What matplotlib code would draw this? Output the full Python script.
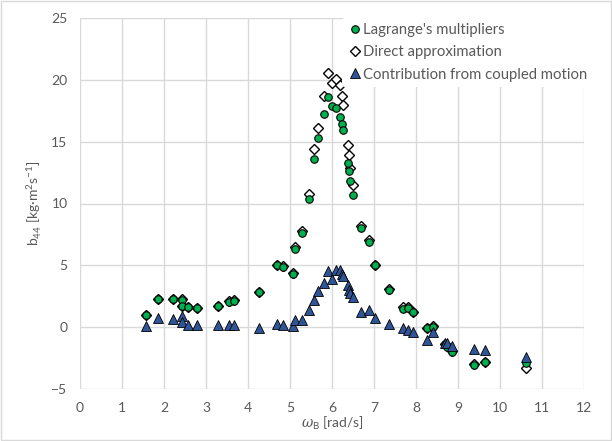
import matplotlib
matplotlib.use("Agg")
import matplotlib.pyplot as plt

plt.rcParams["font.family"] = ["Lato", "DejaVu Sans"]
plt.rcParams["mathtext.fontset"] = "custom"
plt.rcParams["mathtext.rm"] = "Lato"
plt.rcParams["mathtext.it"] = "DejaVu Serif:italic"

# encounter frequency [rad/s]
omega = [1.56, 1.86, 2.21, 2.44, 2.44, 2.58, 2.78, 3.29, 3.55, 3.67, 4.25,
         4.69, 4.83, 5.07, 5.13, 5.29, 5.45, 5.58, 5.67, 5.81, 5.91, 6.00,
         6.10, 6.18, 6.24, 6.27, 6.39, 6.40, 6.43, 6.49, 6.68, 6.88, 7.02,
         7.36, 7.70, 7.80, 7.92, 8.26, 8.40, 8.69, 8.73, 8.85, 9.39, 9.64, 10.63]
# roll damping b44, Lagrange's multipliers
b44_lagrange = [1.0, 2.3, 2.25, 2.2, 1.68, 1.6, 1.55, 1.68, 2.05, 2.15, 2.85,
                5.0, 4.9, 4.3, 6.3, 7.6, 10.4, 13.6, 15.3, 17.2, 18.6, 17.9,
                17.7, 17.0, 16.4, 15.95, 13.27, 12.6, 11.8, 10.7, 8.0, 6.9, 5.0,
                3.0, 1.5, 1.55, 1.2, -0.1, 0.05, -1.4, -1.6, -2.0, -3.05, -2.85, -2.9]
# roll damping b44, direct approximation
b44_direct = [1.0, 2.3, 2.3, 2.28, 1.68, 1.63, 1.55, 1.68, 2.09, 2.17, 2.85,
              5.0, 4.92, 4.38, 6.5, 7.75, 10.75, 14.4, 16.1, 18.66, 20.55, 19.74,
              20.1, 19.55, 18.66, 17.93, 14.75, 13.95, 12.87, 11.5, 8.15, 7.07, 5.05,
              3.09, 1.6, 1.6, 1.25, -0.05, 0.1, -1.35, -1.55, -1.95, -3.0, -2.8, -3.3]
# contribution from coupled motion
b44_coupled = [0.07, 0.74, 0.66, 0.87, 0.39, 0.2, 0.2, 0.2, 0.2, 0.15, -0.07,
               0.28, 0.2, 0.12, 0.6, 0.6, 1.41, 2.17, 2.9, 3.57, 4.51, 3.9,
               4.65, 4.65, 4.3, 4.16, 3.44, 3.03, 2.8, 2.41, 1.2, 1.36, 0.74,
               0.26, -0.1, -0.2, -0.39, -1.0, -0.4, -1.25, -1.3, -1.5, -1.76, -1.82, -2.45]

GREEN, BLUE, GRID, TXT = "#00b050", "#2f5597", "#d9d9d9", "#595959"

fig = plt.figure(figsize=(6.12, 4.41), dpi=100)
ax = fig.add_axes([80 / 612, 1 - 389 / 441, 504 / 612, 371 / 441])

ax.plot(omega, b44_lagrange, ls="", marker="o", ms=5.4, mfc=GREEN, mec="black",
        mew=0.8, zorder=4, label="Lagrange's multipliers")
ax.plot(omega, b44_direct, ls="", marker="D", ms=5.2, mfc="white", mec="black",
        mew=1.0, zorder=3, label="Direct approximation")
ax.plot(omega, b44_coupled, ls="", marker="^", ms=7.2, mfc=BLUE, mec="black",
        mew=0.6, zorder=5, label="Contribution from coupled motion")

ax.set_xlim(0, 12)
ax.set_ylim(-5, 25)
ax.set_xticks(range(0, 13))
ax.set_yticks(range(-5, 26, 5))
ax.grid(True, color=GRID, lw=1.0, zorder=0)
ax.set_axisbelow(True)
for s in ax.spines.values():
    s.set_visible(False)
ax.tick_params(length=0, labelsize=10, colors=TXT, pad=9)

ax.set_xlabel(r"$\omega_{\rm B}$ [rad/s]", fontsize=10, color=TXT, labelpad=1)
ax.set_ylabel(r"b$_{44}$ [kg·m$^{2}$s$^{-1}$]", fontsize=10, color=TXT, labelpad=6)

leg = ax.legend(loc="upper left", bbox_to_anchor=(342 / 612, 1 - 18 / 441),
                bbox_transform=fig.transFigure, frameon=True, fontsize=10.7,
                handletextpad=0.05, handlelength=1.0, borderpad=0.35,
                labelspacing=0.55, borderaxespad=0)
leg.get_frame().set_facecolor("white")
leg.get_frame().set_edgecolor("none")
leg.get_frame().set_alpha(1)
for t in leg.get_texts():
    t.set_color(TXT)

# light chart border
fig.patches.append(plt.Rectangle((0.002, 0.002), 0.996, 0.996, transform=fig.transFigure,
                                 fill=False, ec=GRID, lw=1.0))

fig.savefig("out.png", dpi=100)
